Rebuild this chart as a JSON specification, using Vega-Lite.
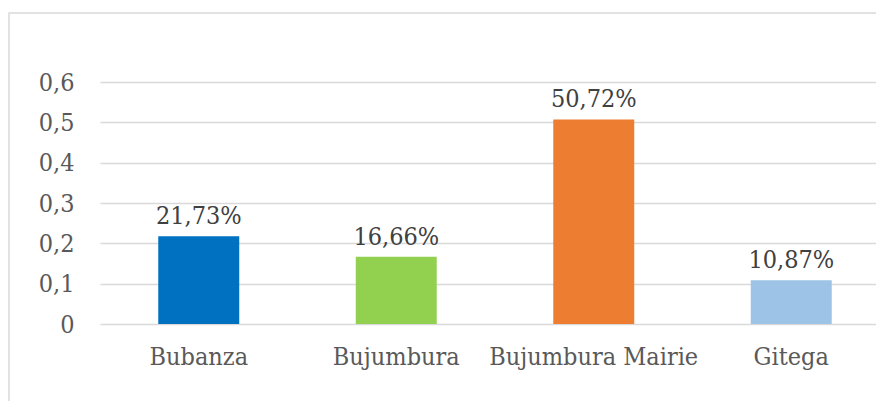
{
  "$schema": "https://vega.github.io/schema/vega-lite/v6.json",
  "autosize": {"type": "none"},
  "padding": {"left": 9, "top": 13, "right": 0, "bottom": 0},
  "width": 880,
  "height": 400,
  "background": "white",
  "config": {
    "locale": {"number": {"decimal": ",", "thousands": ".", "grouping": [3], "currency": ["", " €"]}},
    "view": {"stroke": "#d9d9d9", "strokeWidth": 1.5},
    "font": "DejaVu Serif Condensed"
  },
  "data": {
    "values": [
      {"region": "Bubanza", "value": 0.2173},
      {"region": "Bujumbura", "value": 0.1666},
      {"region": "Bujumbura Mairie", "value": 0.5072},
      {"region": "Gitega", "value": 0.1087}
    ]
  },
  "encoding": {
    "x": {
      "field": "region",
      "type": "nominal",
      "sort": null,
      "scale": {"range": [91, 881], "paddingInner": 0.59, "paddingOuter": 0.295},
      "axis": {
        "title": null,
        "labelAngle": 0,
        "labelFont": "DejaVu Serif Condensed",
        "labelFontSize": 25,
        "labelColor": "#595959",
        "labelPadding": 20,
        "labelLimit": 0,
        "ticks": false,
        "domain": false,
        "offset": -89
      }
    },
    "y": {
      "field": "value",
      "type": "quantitative",
      "scale": {"domain": [0, 0.6], "range": [311, 69], "nice": false},
      "axis": {
        "title": null,
        "values": [0, 0.1, 0.2, 0.3, 0.4, 0.5, 0.6],
        "format": ".1~f",
        "labelFont": "DejaVu Serif Condensed",
        "labelFontSize": 25,
        "labelColor": "#595959",
        "labelPadding": 26,
        "ticks": false,
        "domain": false,
        "gridColor": "#d9d9d9",
        "gridWidth": 1.5,
        "offset": -91
      }
    }
  },
  "layer": [
    {
      "mark": {"type": "bar"},
      "encoding": {
        "color": {
          "field": "region",
          "type": "nominal",
          "scale": {
            "domain": ["Bubanza", "Bujumbura", "Bujumbura Mairie", "Gitega"],
            "range": ["#0070C0", "#92D050", "#ED7D31", "#9DC3E6"]
          },
          "legend": null
        }
      }
    },
    {
      "mark": {"type": "text", "baseline": "alphabetic", "dy": -12, "font": "DejaVu Serif Condensed", "fontSize": 25, "color": "#404040"},
      "encoding": {
        "text": {"field": "value", "type": "quantitative", "format": ".2%"}
      }
    }
  ]
}
